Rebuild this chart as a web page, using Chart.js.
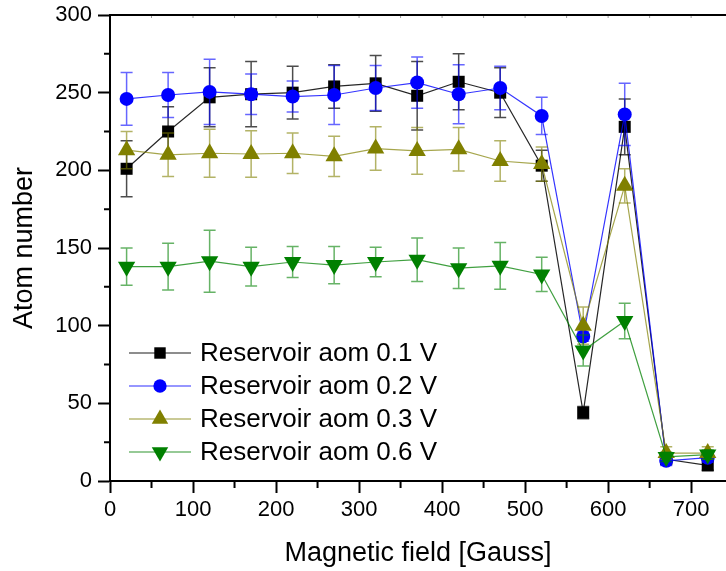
<!DOCTYPE html>
<html>
<head>
<meta charset="utf-8">
<script src="https://cdn.jsdelivr.net/npm/chart.js@4.4.1/dist/chart.umd.min.js"></script>
<style>
html,body{margin:0;padding:0;background:#fff;}
#wrap{width:726px;height:571px;position:relative;}
</style>
</head>
<body>
<div id="wrap"><canvas id="c"></canvas></div>
<script>
// ---- data ----
const fieldGauss = [20, 70, 120, 170, 220, 270, 320, 370, 420, 470, 520, 570, 620, 670, 720];

const atoms01 = [201, 225, 247, 249, 250, 254, 256, 248, 257, 250, 203, 44, 228, 14, 10];
const err01   = [18, 16, 19, 21, 17, 14, 18, 22, 18, 16, 10, 4, 18, 3, 3];

const atoms02 = [246, 248.5, 250.5, 249, 247.5, 248.5, 253, 256.5, 249, 253, 235, 93, 236, 13, 15];
const err02   = [17, 14.5, 21, 13, 10, 19, 14.5, 16.5, 19, 14, 12, 3, 20, 3, 3];

const atoms03 = [213, 210, 211, 210.5, 211, 209, 214, 212.5, 213.5, 206, 204, 100, 190, 18, 18];
const err03   = [12, 14, 15.5, 15, 13, 13, 14, 15, 14, 13, 11, 12, 11, 4, 4];

const atoms06 = [138, 138, 141.5, 138, 141, 139, 141, 142.5, 137, 138.5, 133, 84, 103, 15.5, 17];
const err06   = [12, 15, 20, 12.5, 10, 12, 9.5, 14, 13, 15, 11, 10, 11.5, 3, 3];

const seriesLabels = ['Reservoir aom 0.1 V', 'Reservoir aom 0.2 V', 'Reservoir aom 0.3 V', 'Reservoir aom 0.6 V'];
const xTickValues = [0, 100, 200, 300, 400, 500, 600, 700];
const xMinorValues = [50, 150, 250, 350, 450, 550, 650];
const yTickValues = [0, 50, 100, 150, 200, 250, 300];
const yMinorValues = [25, 75, 125, 175, 225, 275];

// ---- styling ----
const FONT = '"Liberation Sans", Arial, Helvetica, sans-serif';
const seriesColors = ['#000000', '#0000ff', '#808000', '#008000'];
const lineColors = ['rgba(0,0,0,0.85)', 'rgba(0,0,255,0.8)', 'rgba(128,128,0,0.7)', 'rgba(0,128,0,0.75)'];
const errColors = ['rgba(0,0,0,0.7)', 'rgba(0,0,255,0.6)', 'rgba(128,128,0,0.6)', 'rgba(0,128,0,0.6)'];
const legendLineColors = ['rgba(0,0,0,0.6)', 'rgba(0,0,255,0.55)', 'rgba(128,128,0,0.55)', 'rgba(0,128,0,0.55)'];
const pointStyles = ['rect', 'circle', 'triangle', 'triangle'];
const pointRadii = [8.5, 7, 10, 10];
const pointRotations = [0, 0, 0, 180];

const valueSets = [atoms01, atoms02, atoms03, atoms06];
const errSets = [err01, err02, err03, err06];

const datasets = valueSets.map((vals, k) => ({
  label: seriesLabels[k],
  data: fieldGauss.map((x, i) => ({ x: x, y: vals[i] })),
  errors: errSets[k],
  errColor: errColors[k],
  borderColor: lineColors[k],
  backgroundColor: seriesColors[k],
  borderWidth: 1.2,
  pointStyle: pointStyles[k],
  pointRadius: pointRadii[k],
  pointRotation: pointRotations[k],
  pointBackgroundColor: seriesColors[k],
  pointBorderColor: seriesColors[k],
  pointBorderWidth: 0,
  showLine: true,
  fill: false,
  tension: 0,
  order: 3 - k
}));

const errorBarPlugin = {
  id: 'errorBars',
  beforeDatasetDraw(chart, args) {
    const ds = chart.data.datasets[args.index];
    if (!ds.errors) return;
    const ctx = chart.ctx, xs = chart.scales.x, ys = chart.scales.y;
    const cap = 6;
    ctx.save();
    ctx.beginPath();
    ctx.rect(chart.chartArea.left, chart.chartArea.top, chart.chartArea.right - chart.chartArea.left, chart.chartArea.bottom - chart.chartArea.top);
    ctx.clip();
    ctx.strokeStyle = ds.errColor;
    ctx.lineWidth = 1.5;
    ds.data.forEach((p, i) => {
      const e = ds.errors[i];
      const px = xs.getPixelForValue(p.x);
      const yt = ys.getPixelForValue(p.y + e);
      const yb = ys.getPixelForValue(p.y - e);
      ctx.beginPath();
      ctx.moveTo(px, yt); ctx.lineTo(px, yb);
      ctx.moveTo(px - cap, yt); ctx.lineTo(px + cap, yt);
      ctx.moveTo(px - cap, yb); ctx.lineTo(px + cap, yb);
      ctx.stroke();
    });
    ctx.restore();
  }
};

const framePlugin = {
  id: 'frameExtras',
  afterDraw(chart) {
    const ctx = chart.ctx, a = chart.chartArea, xs = chart.scales.x, ys = chart.scales.y;
    ctx.save();
    ctx.strokeStyle = '#000';
    ctx.lineWidth = 2;
    ctx.beginPath(); ctx.moveTo(a.left - 1, a.top); ctx.lineTo(a.right, a.top); ctx.stroke();
    ctx.beginPath();
    yMinorValues.forEach(v => { const y = ys.getPixelForValue(v); ctx.moveTo(a.left - 6, y); ctx.lineTo(a.left, y); });
    xMinorValues.forEach(v => { const x = xs.getPixelForValue(v); ctx.moveTo(x, a.bottom); ctx.lineTo(x, a.bottom + 7); });
    ctx.stroke();
    ctx.lineWidth = 1;
    ctx.strokeStyle = 'rgba(0,0,0,0.4)';
    ctx.beginPath();
    xTickValues.concat(xMinorValues).forEach(v => { const x = xs.getPixelForValue(v); ctx.moveTo(x, a.top); ctx.lineTo(x, a.top + 3); });
    ctx.stroke();
    ctx.restore();

    // legend inside the plot
    const lx0 = a.left + 19, lx1 = a.left + 81, mx = a.left + 50, tx = a.left + 90;
    const rowTop = a.bottom - 128, rowStep = 33;
    ctx.save();
    chart.data.datasets.forEach((ds, k) => {
      const y = rowTop + k * rowStep;
      ctx.strokeStyle = legendLineColors[k];
      ctx.lineWidth = 1.5;
      ctx.beginPath(); ctx.moveTo(lx0, y); ctx.lineTo(lx1, y); ctx.stroke();
      ctx.fillStyle = seriesColors[k];
      ctx.strokeStyle = seriesColors[k];
      Chart.helpers.drawPoint(ctx, {
        pointStyle: pointStyles[k],
        radius: pointRadii[k] * 0.95,
        rotation: pointRotations[k],
        borderWidth: 0
      }, mx, y);
      ctx.fillStyle = '#000';
      ctx.font = '26px ' + FONT;
      ctx.textBaseline = 'middle';
      ctx.textAlign = 'left';
      ctx.fillText(ds.label, tx, y + 1);
    });
    ctx.restore();
  }
};

new Chart(document.getElementById('c'), {
  type: 'scatter',
  data: { datasets: datasets },
  plugins: [errorBarPlugin, framePlugin],
  options: {
    responsive: true,
    maintainAspectRatio: false,
    animation: false,
    devicePixelRatio: 1,
    layout: { autoPadding: false, padding: { top: 15, right: 0, bottom: 0, left: 0 } },
    plugins: { legend: { display: false }, tooltip: { enabled: false } },
    scales: {
      x: {
        type: 'linear',
        min: 0,
        max: 742,
        afterBuildTicks: s => { s.ticks = xTickValues.map(v => ({ value: v })); },
        afterFit: s => { s.height = 90; s.paddingLeft = 0; s.paddingRight = 0; },
        grid: { display: true, drawOnChartArea: false, drawTicks: true, tickLength: 12, tickColor: '#000', tickWidth: 2 },
        border: { display: true, color: '#000', width: 2 },
        ticks: { color: '#000', font: { family: FONT, size: 22 }, padding: 4, maxRotation: 0, autoSkip: false },
        title: { display: true, text: 'Magnetic field [Gauss]', color: '#000', font: { family: FONT, size: 27 }, padding: { top: 0, bottom: 1 } }
      },
      y: {
        type: 'linear',
        min: 0,
        max: 300,
        afterBuildTicks: s => { s.ticks = yTickValues.map(v => ({ value: v })); },
        afterFit: s => { s.width = 110; s.paddingTop = 0; s.paddingBottom = 0; },
        grid: { display: true, drawOnChartArea: false, drawTicks: true, tickLength: 12, tickColor: '#000', tickWidth: 2 },
        border: { display: true, color: '#000', width: 2 },
        ticks: { color: '#000', font: { family: FONT, size: 22 }, padding: 6, autoSkip: false },
        title: { display: true, text: 'Atom number', color: '#000', font: { family: FONT, size: 27 }, padding: { top: 8, bottom: 0 } }
      }
    }
  }
});
</script>
</body>
</html>
